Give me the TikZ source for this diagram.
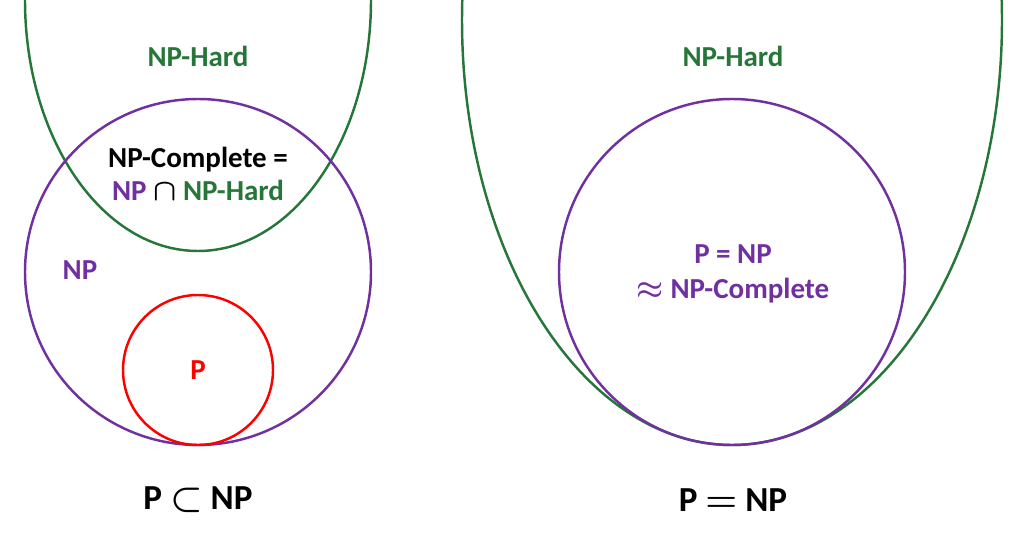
\documentclass[tikz,border=0pt]{standalone}
\usepackage{fontspec}
\setmainfont{Carlito}
\usetikzlibrary{positioning}

\definecolor{hardgreen}{RGB}{38,118,58}
\definecolor{nppurple}{RGB}{112,48,160}
\definecolor{pred}{RGB}{255,0,0}

\begin{document}
\begin{tikzpicture}[
    x=0.02cm, y=0.02cm,
    % sets drawn as outlines
    setline/.style={line width=1.4pt},
    hardset/.style={setline, draw=hardgreen},
    npset/.style={setline, draw=nppurple},
    pset/.style={setline, draw=pred},
    % texts
    setlabel/.style={
        font=\bfseries\boldmath\fontsize{16.5}{18.5}\selectfont,
        inner sep=0pt,
        align=center
    },
    caption/.style={
        font=\bfseries\boldmath\fontsize{20}{24}\selectfont,
        inner sep=0pt
    }
]

% === Frame ===
\useasboundingbox (0,0) rectangle (1011,542);
\begin{scope}
\clip (0,0) rectangle (1011,542);

% === Left: P subset of NP ===
\draw[hardset] (198,542) ellipse[x radius=173, y radius=251];
\draw[npset] (198,270) circle[radius=173];
\draw[pset] (198,172) circle[radius=75];

% === Right: P equals NP ===
\draw[hardset] (732,522) ellipse[x radius=270, y radius=425];
\draw[npset] (732,270) circle[radius=173];
\end{scope}

% === Labels, left ===
\node[setlabel, text=hardgreen] (hardL) at (198,486) {NP-Hard};
\node[setlabel] (complete) at (198,368)
    {NP-Complete =\\
     \textcolor{nppurple}{NP} $\cap$ \textcolor{hardgreen}{NP-Hard}};
\node[setlabel, text=nppurple] (npL) at (80,272) {NP};
\node[setlabel, text=pred] (pL) at (198,172) {P};
\node[caption] (subset) at (198,42) {P $\subset$ NP};

% === Labels, right ===
\node[setlabel, text=hardgreen] (hardR) at (733,486) {NP-Hard};
\node[setlabel, text=nppurple] (equal) at (733,268)
    {P = NP\\[1.5pt] $\approx$ NP-Complete};
\node[caption] (same) at (733,42) {P $=$ NP};

\end{tikzpicture}
\end{document}
